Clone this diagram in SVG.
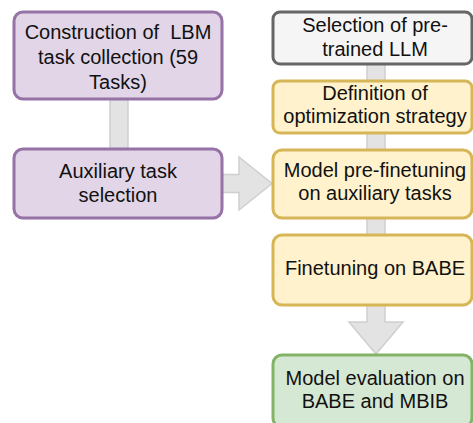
<svg xmlns="http://www.w3.org/2000/svg" width="473" height="423" viewBox="0 0 473 423">
<style>
.box{stroke-width:3}
.purple{fill:#e1d5e7;stroke:#9673a6}
.yellow{fill:#fff2cc;stroke:#d6b656}
.green{fill:#d5e8d4;stroke:#82b366}
.gray{fill:#f5f5f5;stroke:#666666}
.arrow{fill:#e3e3e3;stroke:#cfcfcf;stroke-width:1.5}
text{font-family:"Liberation Sans",Arial,sans-serif;font-size:20px;fill:#111;text-anchor:middle;white-space:pre}
</style>
<rect width="473" height="423" fill="#ffffff"/>
<g id="connectors">
<polygon class="arrow" points="110,97 128,97 128,151 110,151"/>
<polygon class="arrow" points="220,174.5 239,174.5 239,157 272,183.5 239,210 239,192.5 220,192.5"/>
<polygon class="arrow" points="367,62 385,62 385,322 403,322 376,354 349,322 367,322"/>
</g>
<g id="construction">
<rect class="box purple" x="14" y="12" width="208" height="87" rx="9"/>
<text x="118" y="39" xml:space="preserve">Construction of  LBM</text>
<text x="118" y="64">task collection (59</text>
<text x="118" y="89">Tasks)</text>
</g>
<g id="auxiliary">
<rect class="box purple" x="14" y="149" width="208" height="69" rx="9"/>
<text x="118" y="178">Auxiliary task</text>
<text x="118" y="202">selection</text>
</g>
<g id="selection">
<rect class="box gray" x="273" y="12" width="199" height="52" rx="7"/>
<text x="375" y="32">Selection of pre-</text>
<text x="375" y="56">trained LLM</text>
</g>
<g id="definition">
<rect class="box yellow" x="273" y="81" width="199" height="52" rx="7"/>
<text x="375" y="100">Definition of</text>
<text x="375" y="123">optimization strategy</text>
</g>
<g id="prefinetuning">
<rect class="box yellow" x="273" y="150" width="199" height="68" rx="9"/>
<text x="375" y="177">Model pre-finetuning</text>
<text x="375" y="200">on auxiliary tasks</text>
</g>
<g id="finetuning">
<rect class="box yellow" x="273" y="235" width="199" height="70" rx="9"/>
<text x="375" y="275">Finetuning on BABE</text>
</g>
<g id="evaluation">
<rect class="box green" x="273" y="355" width="199" height="72" rx="9"/>
<text x="375" y="385">Model evaluation on</text>
<text x="375" y="408">BABE and MBIB</text>
</g>
</svg>
